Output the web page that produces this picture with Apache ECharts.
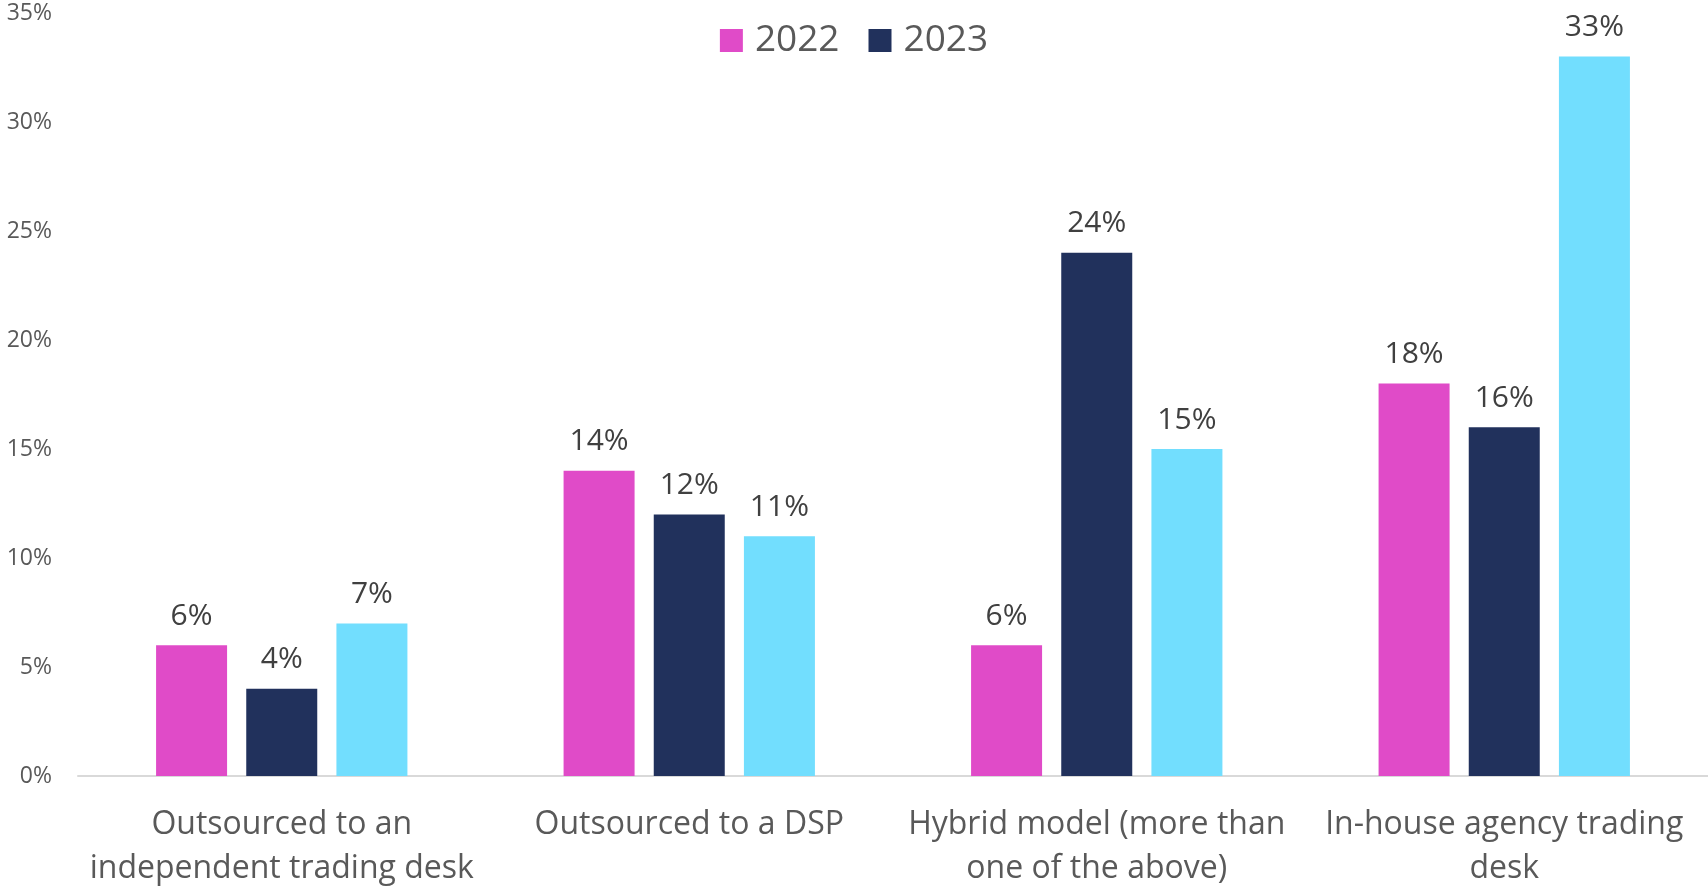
<!DOCTYPE html>
<html>
<head>
<meta charset="utf-8">
<style>
  html, body { margin: 0; padding: 0; background: #ffffff; }
  #chart { width: 1708px; height: 886px; }
</style>
<script src="https://cdn.jsdelivr.net/npm/echarts@6/dist/echarts.min.js"></script>
</head>
<body>
<div id="chart"></div>
<script>
// Trading-desk model categories (line breaks as shown under the axis)
const categories = [
  'Outsourced to an\nindependent trading desk',
  'Outsourced to a DSP',
  'Hybrid model (more than\none of the above)',
  'In-house agency trading\ndesk'
];

const seriesNames = ['2022', '2023', '2024'];
const values2022 = [6, 14, 6, 18];
const values2023 = [4, 12, 24, 16];
const values2024 = [7, 11, 15, 33];

const yTicks = { min: 0, max: 35, interval: 5 };
const legendNames = ['2022', '2023'];

const colors = ['#E04BC8', '#21315C', '#72DEFE'];
const fontFamily = '"Open Sans", "Noto Sans", sans-serif';

const chart = echarts.init(document.getElementById('chart'));

const dataLabel = {
  show: true,
  position: 'top',
  distance: 14,
  formatter: '{c}%',
  color: '#404040',
  fontSize: 30,
  fontFamily: fontFamily
};

function barSeries(name, data, color) {
  return {
    name: name,
    type: 'bar',
    data: data,
    barWidth: 71,
    barGap: '27%',
    itemStyle: { color: color },
    label: dataLabel,
    emphasis: { disabled: true }
  };
}

chart.setOption({
  animation: false,
  color: colors,
  legend: {
    data: legendNames,
    top: 17,
    left: 'center',
    icon: 'rect',
    itemWidth: 23,
    itemHeight: 23,
    itemGap: 29,
    textStyle: {
      color: '#595959',
      fontSize: 37,
      fontFamily: fontFamily,
      padding: [0, 0, 0, 7]
    }
  },
  grid: {
    left: 78,
    right: 0,
    top: 13,
    bottom: 110,
    containLabel: false,
    outerBoundsMode: 'none'
  },
  xAxis: {
    type: 'category',
    data: categories,
    axisLine: { lineStyle: { color: '#D9D9D9', width: 2 } },
    axisTick: { show: false },
    axisLabel: {
      interval: 0,
      margin: 27,
      color: '#595959',
      fontSize: 32,
      lineHeight: 44,
      fontFamily: fontFamily
    }
  },
  yAxis: {
    type: 'value',
    min: yTicks.min,
    max: yTicks.max,
    interval: yTicks.interval,
    splitLine: { show: false },
    axisLine: { show: false },
    axisTick: { show: false },
    axisLabel: {
      formatter: '{value}%',
      margin: 26,
      color: '#595959',
      fontSize: 23,
      fontFamily: fontFamily
    }
  },
  series: [
    barSeries(seriesNames[0], values2022, colors[0]),
    barSeries(seriesNames[1], values2023, colors[1]),
    barSeries(seriesNames[2], values2024, colors[2])
  ]
});
</script>
</body>
</html>
